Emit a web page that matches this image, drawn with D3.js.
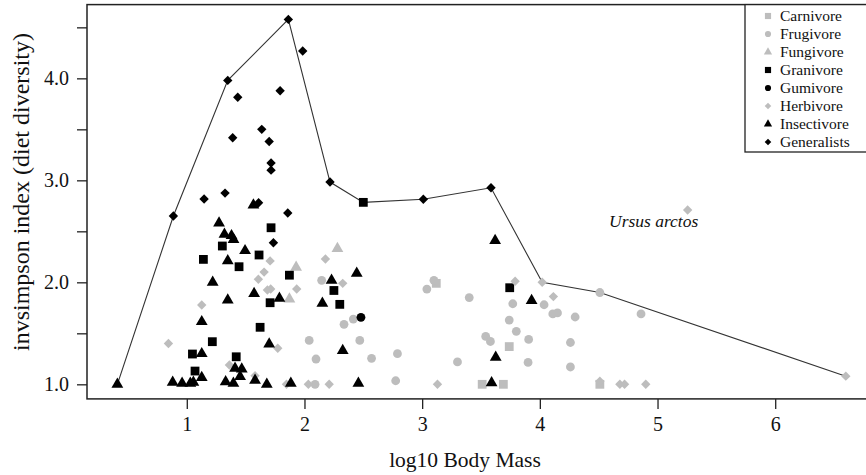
<!DOCTYPE html>
<html>
<head>
<meta charset="utf-8">
<script src="https://cdn.jsdelivr.net/npm/d3@7"></script>
<style>
  body { margin: 0; background: #fff; }
  svg { display: block; }
  text { font-family: "Liberation Serif", "Times New Roman", serif; fill: #111; }
</style>
</head>
<body>
<div id="chart"></div>
<script>
// diet groups: [log10 body mass, invsimpson index]
const carnivore = [[3.12, 1.99], [3.74, 1.37], [3.51, 1.0], [3.69, 1.0], [4.51, 1.0]];
const frugivore = [[2.146, 2.02], [2.04, 1.43], [2.098, 1.248], [2.09, 1.0], [2.336, 1.588],
  [2.415, 1.64], [2.47, 1.43], [2.57, 1.255], [2.79, 1.30], [2.775, 1.035], [3.04, 1.934],
  [3.10, 2.02], [3.40, 1.85], [3.77, 1.79], [4.036, 1.78], [4.11, 1.69], [4.15, 1.70],
  [4.30, 1.66], [3.74, 1.63], [3.80, 1.52], [3.54, 1.47], [3.58, 1.42], [3.905, 1.44],
  [4.26, 1.41], [3.30, 1.22], [3.90, 1.215], [4.26, 1.17], [4.51, 1.90], [4.86, 1.69]];
const fungivore = [[2.28, 2.33], [1.929, 2.147], [1.872, 1.836]];
const granivore = [[2.50, 2.784], [1.716, 2.535], [1.302, 2.356], [1.141, 2.225], [1.614, 2.268],
  [1.444, 2.153], [1.872, 2.07], [1.708, 1.80], [1.623, 1.559], [1.217, 1.418], [1.048, 1.297],
  [1.42, 1.27], [1.07, 1.13], [2.25, 1.92], [2.30, 1.784], [3.744, 1.947]];
const gumivore = [[2.48, 1.657]];
const herbivore = [[1.708, 2.21], [1.657, 2.10], [1.608, 2.03], [1.685, 1.925], [1.713, 1.934],
  [1.934, 1.934], [1.127, 1.777], [0.844, 1.40], [1.362, 1.19], [1.58, 1.085], [1.773, 1.353],
  [1.847, 1.0], [2.033, 1.0], [2.21, 1.0], [2.178, 2.228], [2.325, 1.99], [3.13, 1.0],
  [3.79, 2.01], [4.02, 2.0], [4.115, 1.86], [5.256, 2.709], [4.51, 1.03], [4.68, 1.0],
  [4.72, 1.0], [4.90, 1.0], [6.60, 1.08]];
const insectivore = [[0.41, 1.0], [0.88, 1.02], [0.96, 1.01], [1.03, 1.01], [1.056, 1.02],
  [1.127, 1.065], [1.127, 1.30], [1.127, 1.614], [1.22, 2.0], [1.274, 2.58], [1.32, 2.47],
  [1.38, 2.457], [1.397, 2.42], [1.495, 2.31], [1.348, 2.21], [1.348, 1.826], [1.572, 1.89],
  [1.787, 1.843], [1.566, 2.758], [1.70, 1.395], [1.41, 1.157], [1.467, 1.15], [1.453, 1.075],
  [1.33, 1.025], [1.396, 1.01], [1.58, 1.04], [1.68, 1.0], [1.884, 1.01], [2.458, 1.01],
  [2.23, 2.02], [2.444, 2.088], [2.152, 1.794], [2.325, 1.33], [3.62, 2.41], [3.93, 1.82],
  [3.625, 1.265], [3.59, 1.015]];
const generalists = [[0.886, 2.65], [1.348, 3.98], [1.863, 4.578], [1.985, 4.268], [1.433, 3.814],
  [1.793, 3.878], [1.39, 3.418], [1.637, 3.50], [1.70, 3.38], [1.716, 3.17], [1.716, 3.10],
  [2.217, 2.983], [1.147, 2.817], [1.325, 2.875], [1.61, 2.78], [1.858, 2.68], [1.736, 2.388],
  [3.01, 2.815], [3.585, 2.927]];

// upper envelope line
const envelopeX = [0.41, 0.886, 1.348, 1.863, 2.217, 2.50, 3.01, 3.585, 4.02, 4.51, 6.60];
const envelopeY = [1.0, 2.65, 3.98, 4.578, 2.983, 2.784, 2.815, 2.927, 2.0, 1.90, 1.08];

const xTicks = [1, 2, 3, 4, 5, 6];
const yTicks = [1.0, 1.5, 2.0, 2.5, 3.0, 3.5, 4.0, 4.5];
const yLabels = ["1.0", "2.0", "3.0", "4.0"];

const groups = [
  { name: "Carnivore", data: carnivore, shape: "square", color: "#bdbdbd" },
  { name: "Frugivore", data: frugivore, shape: "circle", color: "#bdbdbd" },
  { name: "Fungivore", data: fungivore, shape: "triangle", color: "#bdbdbd" },
  { name: "Granivore", data: granivore, shape: "square", color: "#000" },
  { name: "Gumivore", data: gumivore, shape: "circle", color: "#000" },
  { name: "Herbivore", data: herbivore, shape: "diamond", color: "#bdbdbd" },
  { name: "Insectivore", data: insectivore, shape: "triangle", color: "#000" },
  { name: "Generalists", data: generalists, shape: "diamond", color: "#000" }
];

const W = 866, H = 475;
const plot = { left: 87, right: 875, top: 4.6, bottom: 398.9 };

const x = d3.scaleLinear().domain([0.152, 6.848]).range([plot.left, plot.right]);
const y = d3.scaleLinear().domain([0.857, 4.723]).range([plot.bottom, plot.top]);

const svg = d3.select("#chart").append("svg")
  .attr("width", W)
  .attr("height", H);

// shape paths, r = half width
function shapePath(shape, r) {
  if (shape === "square") return `M${-r},${-r}H${r}V${r}H${-r}Z`;
  if (shape === "diamond") return `M0,${-r}L${r},0L0,${r}L${-r},0Z`;
  if (shape === "triangle") {
    const h = r * Math.sqrt(3);
    return `M0,${-h * 2 / 3}L${r},${h / 3}L${-r},${h / 3}Z`;
  }
  return d3.arc()({ innerRadius: 0, outerRadius: r, startAngle: 0, endAngle: 2 * Math.PI });
}
const markSize = { square: 4.4, circle: 4.4, triangle: 5.9, diamond: 4.7 };

// axes
const xAxis = svg.append("g")
  .attr("transform", `translate(0,${plot.bottom})`)
  .call(d3.axisBottom(x).tickValues(xTicks).tickSize(10).tickPadding(8).tickFormat(d3.format("d")));
xAxis.select(".domain").remove();
xAxis.selectAll("text").attr("font-size", 20).attr("font-family", "Liberation Serif");
xAxis.selectAll("line").attr("stroke", "#222").attr("stroke-width", 1.3);

const yAxis = svg.append("g")
  .attr("transform", `translate(${plot.left},0)`)
  .call(d3.axisLeft(y).tickValues(yTicks).tickSize(10).tickPadding(8)
    .tickFormat(d => yLabels.includes(d.toFixed(1)) ? d.toFixed(1) : ""));
yAxis.select(".domain").remove();
yAxis.selectAll("text").attr("font-size", 20).attr("font-family", "Liberation Serif");
yAxis.selectAll("line").attr("stroke", "#222").attr("stroke-width", 1.3);

// axis titles
svg.append("text")
  .attr("x", 465)
  .attr("y", 467)
  .attr("text-anchor", "middle")
  .attr("font-size", 21.5)
  .text("log10 Body Mass");

svg.append("text")
  .attr("transform", `translate(29,192) rotate(-90)`)
  .attr("text-anchor", "middle")
  .attr("font-size", 24)
  .text("invsimpson index (diet diversity)");

// envelope line
const line = d3.line()
  .x(d => x(d[0]))
  .y(d => y(d[1]));
svg.append("path")
  .datum(envelopeX.map((v, i) => [v, envelopeY[i]]))
  .attr("fill", "none")
  .attr("stroke", "#333")
  .attr("stroke-width", 1.1)
  .attr("d", line);

// points
groups.forEach(g => {
  svg.append("g").selectAll("path")
    .data(g.data)
    .join("path")
    .attr("transform", d => `translate(${x(d[0])},${y(d[1])})`)
    .attr("d", shapePath(g.shape, markSize[g.shape]))
    .attr("fill", g.color);
});

// species label
svg.append("text")
  .attr("x", 609)
  .attr("y", 227)
  .attr("font-size", 17.5)
  .attr("font-style", "italic")
  .text("Ursus arctos");

// plot frame
svg.append("rect")
  .attr("x", plot.left)
  .attr("y", plot.top)
  .attr("width", plot.right - plot.left)
  .attr("height", plot.bottom - plot.top)
  .attr("fill", "none")
  .attr("stroke", "#222")
  .attr("stroke-width", 1.5);

// legend
const legend = svg.append("g");
legend.append("rect")
  .attr("x", 745)
  .attr("y", plot.top)
  .attr("width", plot.right - 745)
  .attr("height", 152 - plot.top)
  .attr("fill", "#fff")
  .attr("stroke", "#222")
  .attr("stroke-width", 1.3);

const rows = legend.selectAll("g.item")
  .data(groups)
  .join("g")
  .attr("class", "item")
  .attr("transform", (d, i) => `translate(0,${16 + i * 18})`);

rows.append("path")
  .attr("transform", "translate(768,0)")
  .attr("d", d => shapePath(d.shape, markSize[d.shape] * 0.7))
  .attr("fill", d => d.color);

rows.append("text")
  .attr("x", 780)
  .attr("dy", "0.35em")
  .attr("font-size", 15.5)
  .text(d => d.name);
</script>
</body>
</html>
